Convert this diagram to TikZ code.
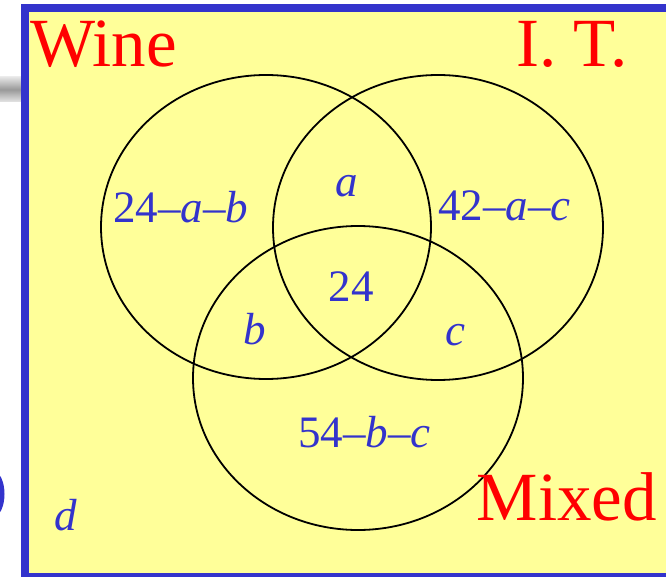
\documentclass[tikz,border=0pt]{standalone}
\usepackage{fontspec}
\setmainfont{Liberation Serif}
\definecolor{frameblue}{HTML}{3333CC}
\definecolor{bgyellow}{HTML}{FFFF99}
\definecolor{txtred}{HTML}{FF0000}
\tikzset{
  setring/.style={draw=black, line width=1.8pt},
  title/.style={inner sep=0pt, text=txtred, font=\fontsize{69}{69}\selectfont},
  count/.style={inner sep=0pt, text=frameblue, font=\fontsize{45}{45}\selectfont},
}
\begin{document}
\begin{tikzpicture}[x=1pt,y=-1pt]
\useasboundingbox (0,0) rectangle (666,577);
\clip (0,0) rectangle (666,577);
% slide remnants on the left
\shade[top color=gray!20, bottom color=gray!20, middle color=gray!80] (0,77) rectangle (21,102);
\draw[frameblue, line width=5pt] (-8,515) arc[start angle=90, end angle=-90, x radius=10, y radius=21];
% frame
\draw[frameblue, fill=bgyellow, line width=8pt] (25,8.5) rectangle (690,577);
% sets
\draw[setring] (266,227) ellipse[x radius=165, y radius=152];
\draw[setring] (438,227.5) ellipse[x radius=165, y radius=152.5];
\draw[setring] (358,378) ellipse[x radius=165, y radius=152];
% titles
\node[title, anchor=base west] (wine) at (30,67) {Wine};
\node[title, anchor=base east] (it) at (628,67) {I.\ T.};
\node[title, anchor=base east] (mixed) at (657,520) {Mixed};
% counts
\node[count, anchor=base west] (wo) at (113,223) {24–\textit{a}–\textit{b}};
\node[count, anchor=base west] (io) at (438,221) {42–\textit{a}–\textit{c}};
\node[count, anchor=base] (wi) at (347,197) {\textit{a}};
\node[count, anchor=base] (all) at (351,301) {24};
\node[count, anchor=base] (wm) at (255,344) {\textit{b}};
\node[count, anchor=base] (im) at (455,345) {\textit{c}};
\node[count, anchor=base west] (mo) at (298,447) {54–\textit{b}–\textit{c}};
\node[count, anchor=base] (none) at (66,530) {\textit{d}};
\end{tikzpicture}
\end{document}
